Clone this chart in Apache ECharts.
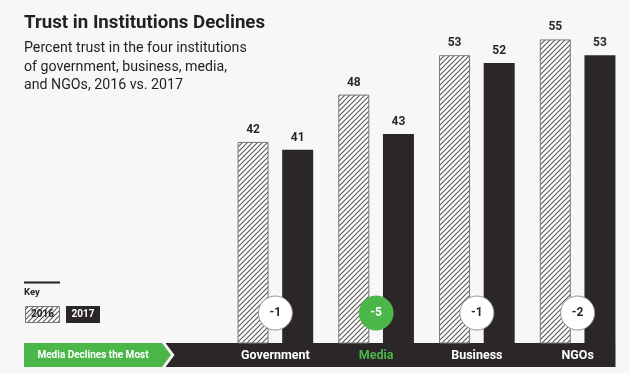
<!DOCTYPE html>
<html>
<head>
<meta charset="utf-8">
<script src="https://cdn.jsdelivr.net/npm/echarts@6/dist/echarts.min.js"></script>
<style>
html,body{margin:0;padding:0;background:#f7f7f7;}
#chart{width:630px;height:373px;}
</style>
</head>
<body>
<div id="chart"></div>
<script>
// ---- data ----
const categories = ['Government', 'Media', 'Business', 'NGOs'];
const trust2016 = [42, 48, 53, 55];
const trust2017 = [41, 43, 52, 53];
const seriesNames = ['2016', '2017'];
const highlightCategory = 'Media';
const titleText = 'Trust in Institutions Declines';
const subtitleLines = ['Percent trust in the four institutions', 'of government, business, media,', 'and NGOs, 2016 vs. 2017'];
const bannerText = 'Media Declines the Most';
const keyLabel = 'Key';

const change = trust2016.map((v, i) => trust2017[i] - v);

// ---- styles ----
const DARK = '#2b2728';
const GREEN = '#4bb749';
const FONT = 'Roboto, "Liberation Sans", Arial, sans-serif';

function makeHatch() {
  const n = 5;
  const c = document.createElement('canvas');
  c.width = n; c.height = n;
  const ctx = c.getContext('2d');
  ctx.fillStyle = '#ffffff';
  ctx.fillRect(0, 0, n, n);
  ctx.strokeStyle = '#5a5657';
  ctx.lineWidth = 1.1;
  ctx.beginPath();
  ctx.moveTo(-1, n + 1); ctx.lineTo(n + 1, -1);
  ctx.moveTo(-1, 1); ctx.lineTo(1, -1);
  ctx.moveTo(n - 1, n + 1); ctx.lineTo(n + 1, n - 1);
  ctx.stroke();
  return c;
}
const hatchCanvas = makeHatch();
const hatch = { image: hatchCanvas, repeat: 'repeat' };

const chart = echarts.init(document.getElementById('chart'), null, { renderer: 'canvas' });

const circleLevel = 20.3; // vertical placement of the change badges (layout)

const option = {
  backgroundColor: '#f7f7f7',
  animation: false,
  textStyle: { fontFamily: FONT },
  grid: { left: 225, right: 2, top: 0, bottom: 30 },
  xAxis: {
    type: 'category',
    data: categories,
    z: 6,
    axisLine: { show: false },
    axisTick: { show: false },
    axisLabel: {
      margin: 6,
      fontSize: 12.5,
      fontWeight: 'bold',
      fontFamily: FONT,
      color: (v) => (v === highlightCategory ? GREEN : '#ffffff')
    }
  },
  yAxis: {
    type: 'value',
    min: 16.5,
    max: 60,
    show: false,
    splitLine: { show: false }
  },
  series: [
    {
      name: seriesNames[0],
      type: 'bar',
      data: trust2016,
      barWidth: 31,
      barGap: '44%',
      itemStyle: { color: hatch, borderColor: '#7a7677', borderWidth: 1 },
      label: {
        show: true, position: 'top', distance: 6,
        fontSize: 12, fontWeight: 'bold', color: '#2b2728', fontFamily: FONT
      }
    },
    {
      name: seriesNames[1],
      type: 'bar',
      data: trust2017,
      barWidth: 31,
      itemStyle: { color: DARK },
      label: {
        show: true, position: 'top', distance: 6,
        fontSize: 12, fontWeight: 'bold', color: '#2b2728', fontFamily: FONT
      }
    },
    {
      type: 'scatter',
      z: 5,
      symbol: 'circle',
      symbolSize: 34,
      itemStyle: { opacity: 1 },
      data: categories.map((c, i) => ({
        value: [i, circleLevel],
        itemStyle: c === highlightCategory
          ? { color: GREEN, borderColor: GREEN, borderWidth: 1, opacity: 1 }
          : { color: '#ffffff', borderColor: '#9a9697', borderWidth: 1, opacity: 1 },
        label: { color: c === highlightCategory ? '#ffffff' : '#2b2728' }
      })),
      label: {
        show: true, position: 'inside',
        fontSize: 12, fontWeight: 'bold', fontFamily: FONT,
        formatter: (p) => String(change[p.dataIndex])
      }
    }
  ],
  graphic: [
    { type: 'text', z: 10, left: 24, top: 13.5,
      style: { text: titleText, font: 'bold 18.7px ' + FONT, fill: '#231f20' } },
    { type: 'text', z: 10, left: 24, top: 41.5,
      style: { text: subtitleLines[0], font: '14.2px ' + FONT, fill: '#231f20' } },
    { type: 'text', z: 10, left: 24, top: 60,
      style: { text: subtitleLines[1], font: '14.2px ' + FONT, fill: '#231f20' } },
    { type: 'text', z: 10, left: 24, top: 78.5,
      style: { text: subtitleLines[2], font: '14.2px ' + FONT, fill: '#231f20' } },
    // key
    { type: 'rect', z: 10, shape: { x: 24, y: 281.5, width: 36, height: 2 }, style: { fill: '#231f20' } },
    { type: 'text', z: 10, left: 24, top: 288,
      style: { text: keyLabel, font: 'bold 9.5px ' + FONT, fill: '#231f20' } },
    { type: 'rect', z: 10, shape: { x: 25.5, y: 306.5, width: 34, height: 16 },
      style: { fill: hatch, stroke: '#7a7677', lineWidth: 1 } },
    { type: 'text', z: 11, x: 42.5, y: 314.5,
      style: { text: seriesNames[0], font: 'bold 10px ' + FONT, fill: '#231f20',
               align: 'center', verticalAlign: 'middle' } },
    { type: 'rect', z: 10, shape: { x: 66, y: 306, width: 34, height: 17 }, style: { fill: DARK } },
    { type: 'text', z: 11, x: 83, y: 314.5,
      style: { text: seriesNames[1], font: 'bold 10px ' + FONT, fill: '#ffffff',
               align: 'center', verticalAlign: 'middle' } },
    // bottom band
    { type: 'polygon', z: 1,
      shape: { points: [[24, 343], [162, 343], [171, 355], [162, 367], [24, 367]] },
      style: { fill: GREEN } },
    { type: 'polygon', z: 1,
      shape: { points: [[165.5, 343], [615.5, 343], [615.5, 367], [165.5, 367], [174.5, 355]] },
      style: { fill: DARK } },
    { type: 'text', z: 10, x: 93, y: 355,
      style: { text: bannerText, font: 'bold 10px ' + FONT, fill: '#ffffff',
               align: 'center', verticalAlign: 'middle' } }
  ]
};

chart.setOption(option);
</script>
</body>
</html>
